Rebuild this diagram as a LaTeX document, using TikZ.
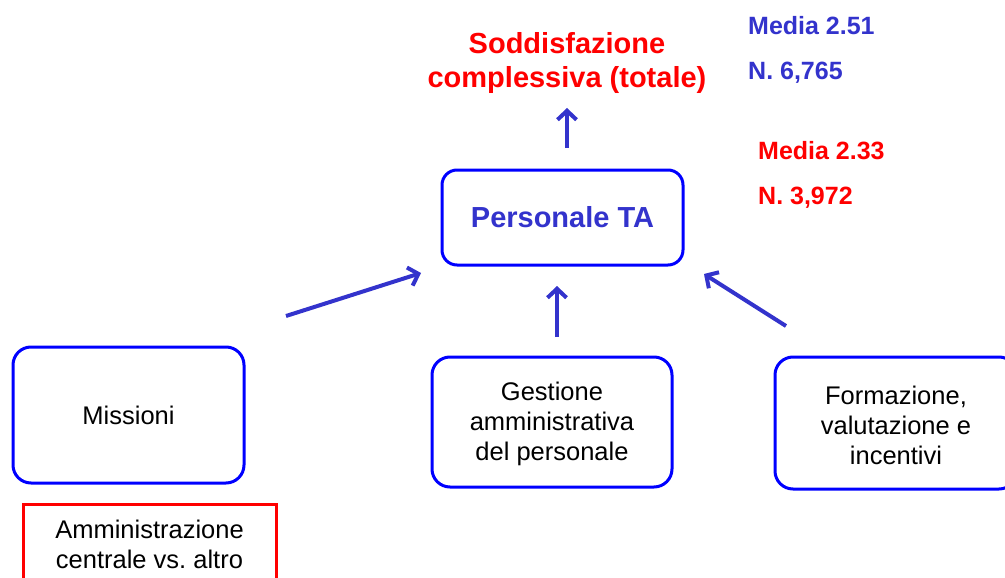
\documentclass[tikz,border=0pt]{standalone}
\usepackage{fontspec}
\setmainfont{Liberation Sans}
\usetikzlibrary{arrows.meta}
\definecolor{tblue}{RGB}{51,51,204}
\definecolor{bblue}{RGB}{0,0,255}
\definecolor{tred}{RGB}{255,0,0}
\tikzset{
  rbox/.style={draw=bblue, line width=3pt, rounded corners=18pt, inner sep=0pt, align=center},
  redbox/.style={draw=tred, line width=3pt, inner sep=0pt},
  body/.style={font=\fontsize{25.5}{30}\selectfont, align=center, text=black},
  arr/.style={draw=tblue, line width=4pt, -{Straight Barb[length=9pt,width=19pt,line width=4pt]}},
  stat/.style={font=\bfseries\fontsize{25}{30}\selectfont, anchor=west, inner sep=0pt}
}
\begin{document}
\begin{tikzpicture}[x=1pt,y=-1pt]
\useasboundingbox (0,0) rectangle (1005,578);
\clip (0,0) rectangle (1005,578);
% title
\node[font=\bfseries\fontsize{29}{34}\selectfont, text=tred, align=center] (title) at (567,63) {Soddisfazione\\complessiva (totale)};
\node[stat, text=tblue] (m1) at (748,26) {Media 2.51};
\node[stat, text=tblue] (n1) at (748,73) {N. 6,765};
\node[stat, text=tred] (m2) at (758,151) {Media 2.33};
\node[stat, text=tred] (n2) at (758,198) {N. 3,972};
% boxes
\node[rbox, minimum width=241pt, minimum height=95pt, rounded corners=15pt, font=\bfseries\fontsize{29}{34}\selectfont, text=tblue] (pers) at (562.5,217.5) {Personale TA};
\node[rbox, minimum width=231pt, minimum height=136pt, body] (miss) at (128.5,415) {Missioni};
\node[rbox, minimum width=240pt, minimum height=130pt, body] (gest) at (552,422) {};
\node[body] (gestt) at (552,424) {Gestione\\amministrativa\\del personale};
\node[rbox, minimum width=242pt, minimum height=132pt, body] (form) at (896,423) {};
\node[body] (formt) at (896,425) {Formazione,\\valutazione e\\incentivi};
\node[redbox, minimum width=253pt, minimum height=90pt, anchor=north] (amm) at (149.5,503) {};
\node[body] (ammt) at (149.5,544) {Amministrazione\\centrale vs.\ altro};
% connector ends
\coordinate (a1s) at (567,148); \coordinate (a1e) at (567,108);
\coordinate (a2s) at (286,316); \coordinate (a2e) at (421,273);
\coordinate (a3s) at (557,337); \coordinate (a3e) at (557,286);
\coordinate (a4s) at (786,326); \coordinate (a4e) at (704,274);
\draw[arr] (a1s) -- (a1e);
\draw[arr] (a2s) -- (a2e);
\draw[arr] (a3s) -- (a3e);
\draw[arr] (a4s) -- (a4e);
\end{tikzpicture}
\end{document}
